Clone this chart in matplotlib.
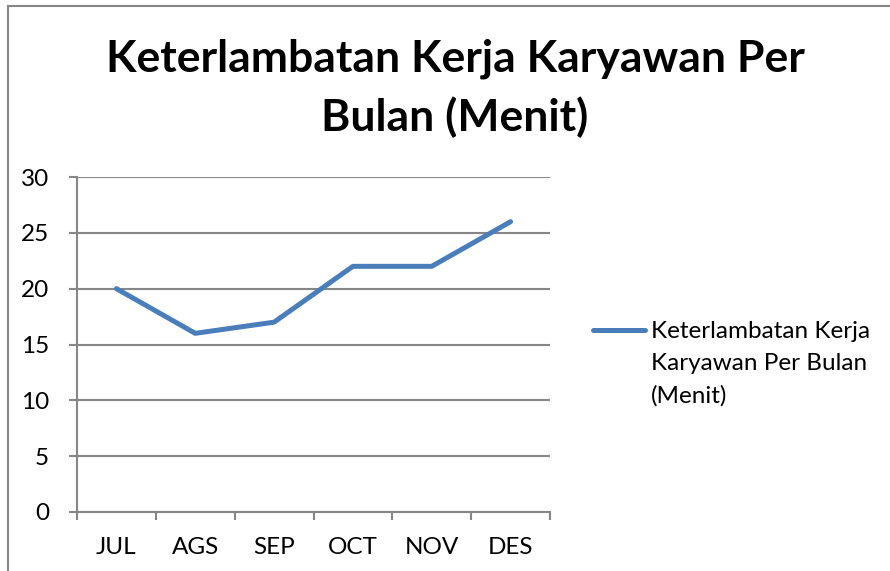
import matplotlib
matplotlib.use("Agg")
import matplotlib.pyplot as plt
from matplotlib.lines import Line2D
from matplotlib.patches import Rectangle
import numpy as np

categories = ["JUL", "AGS", "SEP", "OCT", "NOV", "DES"]
values = [20, 16, 17, 22, 22, 26]
series_name = "Keterlambatan Kerja Karyawan Per Bulan (Menit)"
yticks = [0, 5, 10, 15, 20, 25, 30]

plt.rcParams['font.family'] = ['Lato', 'DejaVu Sans']

W, H = 890, 571
fig = plt.figure(figsize=(W / 100, H / 100), dpi=100)

# outer border (chart area)
fig.patches.append(Rectangle((8 / W, -0.05), 1.1, 1 - 6 / H + 0.05, transform=fig.transFigure,
                             fill=False, edgecolor="#868686", linewidth=1.5))

ax = fig.add_axes([77 / W, 1 - 512 / H, (550 - 77) / W, (512 - 177) / H])
x = np.arange(len(categories))
ax.plot(x, values, color="#4A7EBB", linewidth=3.6, solid_capstyle="round", solid_joinstyle="round", zorder=3)

ax.set_xlim(-0.5, len(categories) - 0.5)
ax.set_ylim(0, 30)
ax.set_yticks(yticks)
ax.set_yticklabels([str(t) for t in yticks], fontsize=17.5)
ax.set_xticks(x)
ax.set_xticklabels(categories, fontsize=17.5)
ax.set_xticks(np.arange(len(categories) + 1) - 0.5, minor=True)
ax.tick_params(axis="x", which="major", length=0, pad=18)
ax.tick_params(axis="x", which="minor", length=6, width=1.5, color="#868686")
ax.tick_params(axis="y", length=6, width=1.5, color="#868686", pad=14)
ax.grid(axis="y", color="#868686", linewidth=1.5)
for s in ["top", "right"]:
    ax.spines[s].set_visible(False)
for s in ["left", "bottom"]:
    ax.spines[s].set_color("#868686")
    ax.spines[s].set_linewidth(1.5)
ax.set_axisbelow(True)

fig.text(455 / W, 1 - 88 / H, "Keterlambatan Kerja Karyawan Per\nBulan (Menit)",
         ha="center", va="center", fontsize=32, fontweight="bold", linespacing=1.5)

# legend
fig.lines.append(Line2D([593 / W, 645 / W], [1 - 330 / H, 1 - 330 / H], transform=fig.transFigure,
                        color="#4A7EBB", linewidth=3.6, solid_capstyle="round"))
fig.text(651 / W, 1 - 364 / H, "Keterlambatan Kerja\nKaryawan Per Bulan\n(Menit)",
         ha="left", va="center", fontsize=17.5, linespacing=1.65)

fig.savefig("out.png", dpi=100)
